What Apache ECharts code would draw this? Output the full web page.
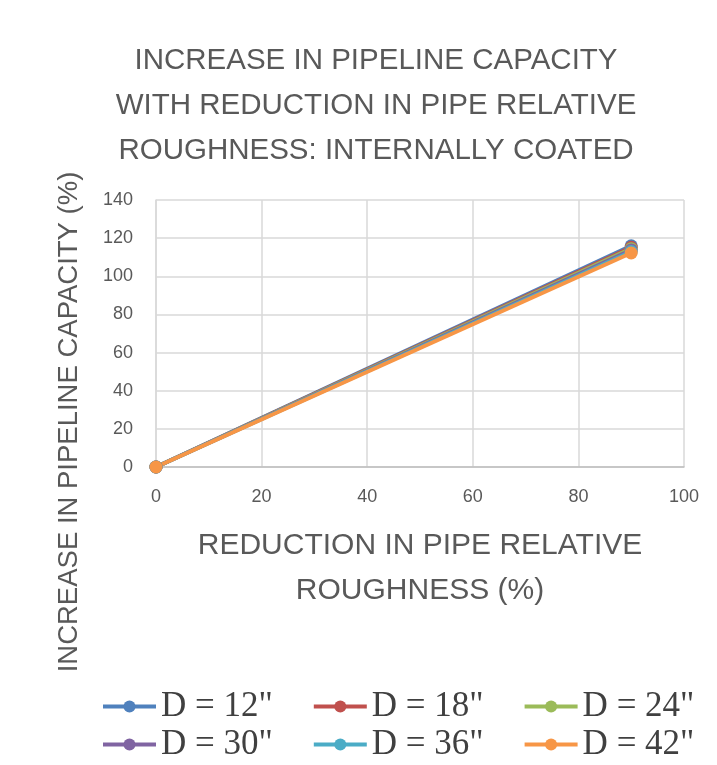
<!DOCTYPE html>
<html><head><meta charset="utf-8">
<script src="https://cdn.jsdelivr.net/npm/echarts@6/dist/echarts.min.js"></script>
<style>html,body{margin:0;padding:0;background:#fff}#c{width:717px;height:765px}</style>
</head><body><div id="c"></div>
<script>
const seriesNames = ['D = 12"', 'D = 18"', 'D = 24"', 'D = 30"', 'D = 36"', 'D = 42"'];
const colors = ['#4f81bd', '#c0504d', '#9bbb59', '#8064a2', '#4bacc6', '#f79646'];
const xValues = [0, 90];
const s12 = [0, 116];
const s18 = [0, 115.2];
const s24 = [0, 114.5];
const s30 = [0, 113.8];
const s36 = [0, 113];
const s42 = [0, 112.2];
const allSeries = [s12, s18, s24, s30, s36, s42];

const chart = echarts.init(document.getElementById('c'), null, {renderer: 'canvas'});
const font = '"Liberation Sans", Arial, sans-serif';
const legendText = {fontFamily: '"Liberation Serif", "Times New Roman", serif', fontSize: 35, color: '#404040'};
const legendCommon = {itemWidth: 53, itemHeight: 15, itemGap: 39, textStyle: legendText, lineStyle: {width: 4}};
chart.setOption({
  animation: false,
  color: colors,
  title: {
    text: 'INCREASE IN PIPELINE CAPACITY\nWITH REDUCTION IN PIPE RELATIVE\nROUGHNESS: INTERNALLY COATED',
    left: 371, top: 33, textAlign: 'center',
    textStyle: {fontFamily: font, fontSize: 29.5, fontWeight: 'normal', color: '#595959', lineHeight: 45}
  },
  legend: [
    Object.assign({data: seriesNames.slice(0, 3), left: 96, top: 684}, legendCommon),
    Object.assign({data: seriesNames.slice(3), left: 96, top: 722}, legendCommon)
  ],
  graphic: [{
    type: 'text', x: 69, y: 422, rotation: Math.PI / 2, z: 10,
    style: {text: 'INCREASE IN PIPELINE CAPACITY (%)', fontFamily: font, fontSize: 27.5, fill: '#595959',
            textAlign: 'center', textVerticalAlign: 'middle'}
  }],
  grid: {left: 156, right: 33, top: 200, bottom: 298},
  xAxis: {
    type: 'value', min: 0, max: 100, interval: 20,
    name: 'REDUCTION IN PIPE RELATIVE\nROUGHNESS (%)', nameLocation: 'middle', nameGap: 56,
    nameTextStyle: {fontFamily: font, fontSize: 30, color: '#595959', lineHeight: 45},
    axisLine: {show: true, lineStyle: {color: '#bfbfbf', width: 1.5}},
    axisTick: {show: false},
    axisLabel: {fontFamily: font, fontSize: 18, color: '#595959', margin: 21},
    splitLine: {show: true, lineStyle: {color: '#d9d9d9', width: 1.5}}
  },
  yAxis: {
    type: 'value', min: 0, max: 140, interval: 20,
    axisLine: {show: true, lineStyle: {color: '#d9d9d9', width: 1.5}},
    axisTick: {show: false},
    axisLabel: {fontFamily: font, fontSize: 18, color: '#595959', margin: 23},
    splitLine: {show: true, lineStyle: {color: '#d9d9d9', width: 1.5}}
  },
  series: allSeries.map((vals, i) => ({
    name: seriesNames[i], type: 'line',
    data: xValues.map((x, j) => [x, vals[j]]),
    symbol: 'circle', symbolSize: 13,
    lineStyle: {width: 4, color: colors[i]},
    itemStyle: {color: colors[i]}
  }))
});
</script></body></html>
